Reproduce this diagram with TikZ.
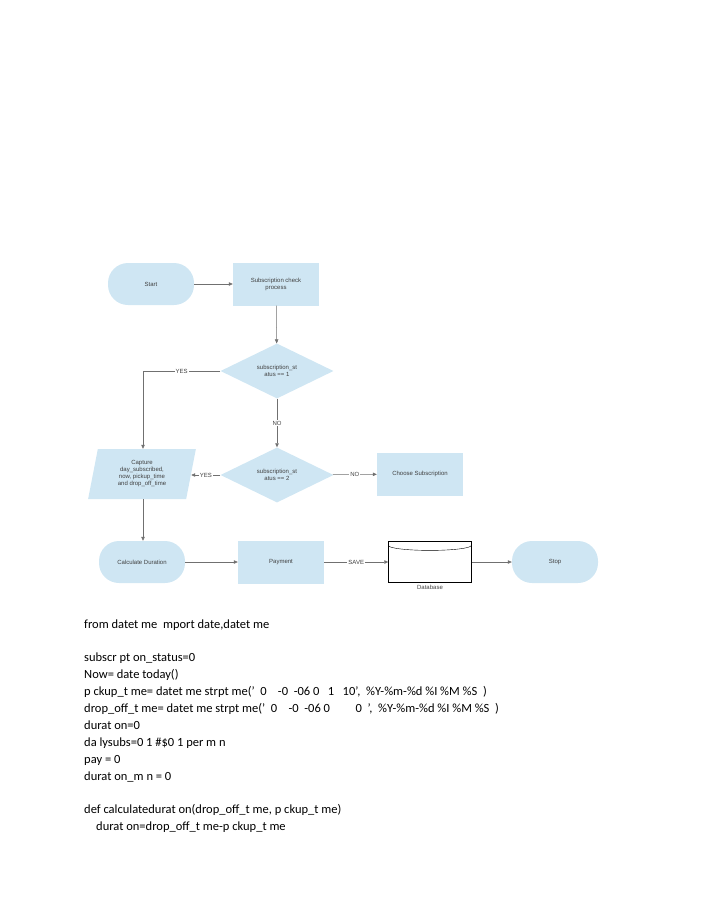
\documentclass[tikz,border=0pt]{standalone}
\usepackage{fontspec}
\setmainfont{Carlito}
\newfontfamily\diag{Liberation Sans}
\usetikzlibrary{shapes.geometric,arrows.meta}
\definecolor{bx}{HTML}{CFE6F3}
\definecolor{ln}{HTML}{707070}
\begin{document}
\begin{tikzpicture}[x=1pt,y=-1pt,
 every node/.style={font=\diag\fontsize{6}{7}\selectfont,text=black!75},
 term/.style={draw=none,fill=bx,rounded corners=20pt,minimum width=86pt,minimum height=42pt},
 proc/.style={draw=none,fill=bx,minimum width=86pt,minimum height=43pt,align=center},
 dec/.style={diamond,fill=bx,minimum width=113pt,minimum height=55pt,inner sep=0pt,align=center,aspect=2},
 io/.style={trapezium,trapezium left angle=79,trapezium right angle=101,fill=bx,minimum width=82pt,minimum height=50pt,align=center,inner sep=1pt},
 arr/.style={draw=ln,line width=0.5pt,-{Triangle[length=4pt,width=3.5pt]}},
 lbl/.style={fill=white,inner sep=1pt},
 code/.style={font=\fontsize{12.5}{15}\selectfont,text=black,anchor=base west,inner sep=0pt}]
\useasboundingbox (0,0) rectangle (714,918);
\node[term] (start) at (151,284) {Start};
\node[proc] (sub) at (276,284) {Subscription check\\process};
\node[dec] (d1) at (277,371) {subscription\_st\\atus == 1};
\node[dec] (d2) at (277,475) {subscription\_st\\atus == 2};
\node[io] (cap) at (142,474) {Capture\\day\_subscribed,\\now, pickup\_time\\and drop\_off\_time};
\node[proc] (choose) at (420,474) {Choose Subscription};
\node[term] (calc) at (142,562) {Calculate Duration};
\node[proc] (pay) at (281,562) {Payment};
\node[cylinder,shape border rotate=90,draw=black,fill=white,minimum width=83pt,minimum height=41pt,aspect=0.25,inner sep=0pt] (db) at (430,562) {};
\node (dbl) at (430,587) {Database};
\node[term] (stop) at (555,562) {Stop};
\draw[arr] (start) -- (sub);
\draw[arr] (sub) -- (d1);
\draw[arr] (d1) -- node[lbl]{NO} (d2);
\draw[arr] (d1.west) -- node[lbl,pos=0.5]{YES} (143,371) -- (cap.north -| 143,0);
\draw[arr] (d2) -- node[lbl]{YES} (cap.east |- d2);
\draw[arr] (d2) -- node[lbl]{NO} (choose);
\draw[arr] (cap.south -| 143,0) -- (calc.north -| 143,0);
\draw[arr] (calc) -- (pay);
\draw[arr] (pay) -- node[lbl]{SAVE} (db);
\draw[arr] (db) -- (stop);
\draw[black,line width=0.4pt] ([yshift=-4pt]db.before top) arc[start angle=180,end angle=360,x radius=41.5pt,y radius=5pt];
\node[code] (c1) at (84,628) {from datet me\ \ mport date,datet me};
\node[code] (c2) at (84,661) {subscr pt on\_status=0};
\node[code] (c3) at (84,678) {Now= date today()};
\node[code] (c4) at (84,695) {p ckup\_t me= datet me strpt me('\ \ 0\ \ \ \ -0\ \ -06 0\ \ \ 1\ \ \ 10',\ \ \%Y-\%m-\%d \%I \%M \%S\ \ )};
\node[code] (c5) at (84,712) {drop\_off\_t me= datet me strpt me('\ \ 0\ \ \ \ -0\ \ -06 0\ \ \ \ \ \ \ \ \ 0\ \ ',\ \ \%Y-\%m-\%d \%I \%M \%S\ \ )};
\node[code] (c6) at (84,729) {durat on=0};
\node[code] (c7) at (84,746) {da lysubs=0 1 \#\$0 1 per m n};
\node[code] (c8) at (84,763) {pay = 0};
\node[code] (c9) at (84,780) {durat on\_m n = 0};
\node[code] (c10) at (84,813) {def calculatedurat on(drop\_off\_t me, p ckup\_t me)};
\node[code] (c11) at (96,830) {durat on=drop\_off\_t me-p ckup\_t me};
\end{tikzpicture}
\end{document}
